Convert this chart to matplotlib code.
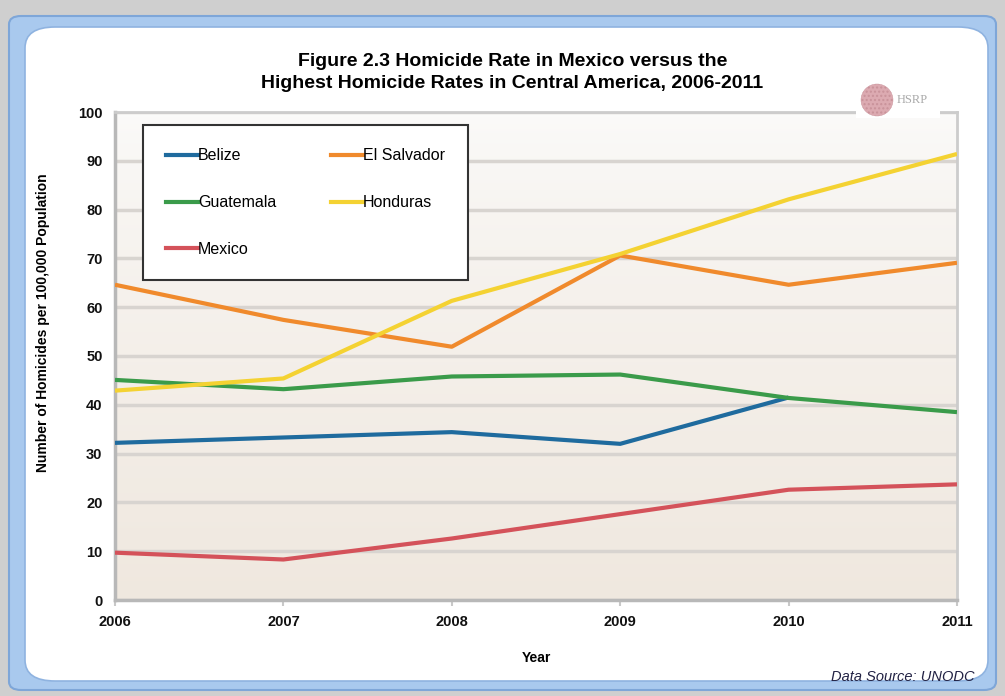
import numpy as np
import matplotlib.pyplot as plt
from matplotlib.patches import FancyBboxPatch, Circle, Rectangle
from matplotlib.lines import Line2D

years = [2006, 2007, 2008, 2009, 2010, 2011]
belize = [32.2, 33.3, 34.4, 32.0, 41.5, np.nan]
el_salvador = [64.6, 57.4, 51.9, 70.6, 64.6, 69.1]
guatemala = [45.1, 43.2, 45.8, 46.2, 41.4, 38.5]
honduras = [42.9, 45.4, 61.3, 70.9, 82.1, 91.4]
mexico = [9.7, 8.3, 12.6, 17.6, 22.6, 23.7]

series = [
    ('Belize', belize, '#1f6b9e'),
    ('El Salvador', el_salvador, '#f08a2c'),
    ('Guatemala', guatemala, '#3a9b4a'),
    ('Honduras', honduras, '#f4d232'),
    ('Mexico', mexico, '#d4525a'),
]

plt.rcParams['font.family'] = ['Liberation Sans', 'DejaVu Sans']

fig = plt.figure(figsize=(10.05, 6.96), dpi=100)
fig.patch.set_facecolor('#cfcfcf')

W, H = 1005.0, 696.0
def fx(px):
    return px / W
def fy(py):
    return 1 - py / H

# window frame
outer = FancyBboxPatch((fx(9), fy(690)), fx(996) - fx(9), fy(16) - fy(690),
                       boxstyle='round,pad=0,rounding_size=0.012',
                       transform=fig.transFigure, facecolor='#a9c9ee',
                       edgecolor='#7ea6d8', lw=1.5, zorder=0)
inner = FancyBboxPatch((fx(25), fy(681)), fx(988) - fx(25), fy(27) - fy(681),
                       boxstyle='round,pad=0,rounding_size=0.03',
                       transform=fig.transFigure, facecolor='white',
                       edgecolor='#8fb3e0', lw=1.2, zorder=0)
fig.patches.extend([outer, inner])

ax = fig.add_axes([fx(115), fy(600), fx(957) - fx(115), fy(112) - fy(600)])
ax.set_zorder(2)

# plot area shading: near white at the top, warm beige at the bottom
grad = np.linspace(0, 1, 256).reshape(-1, 1)
top = np.array([0.985, 0.983, 0.98])
bot = np.array([0.94, 0.91, 0.875])
img = top + (bot - top) * grad[:, :, None] ** 0.7
ax.imshow(img, extent=[2006, 2011, 0, 100], origin='upper', aspect='auto', zorder=0)

for name, vals, col in series:
    ax.plot(years, vals, color=col, lw=3, solid_capstyle='butt', zorder=3)

ax.set_xlim(2006, 2011)
ax.set_ylim(0, 100)
ax.set_yticks(range(0, 101, 10))
ax.set_xticks(years)
ax.grid(axis='y', color='#d8d4d0', lw=2.5, zorder=1)
ax.set_axisbelow(True)
for s in ['left', 'bottom']:
    ax.spines[s].set_color('#b8b8b8')
    ax.spines[s].set_linewidth(2.5)
for s in ['top', 'right']:
    ax.spines[s].set_color('#cccccc')
    ax.spines[s].set_linewidth(2)
ax.tick_params(axis='y', length=0, pad=9)
ax.tick_params(axis='x', length=4, width=1.5, color='#c8c8c8', pad=7)
for lab in ax.get_xticklabels() + ax.get_yticklabels():
    lab.set_fontweight('bold')
    lab.set_fontsize(10.5)
    lab.set_color('#111111')

ax.set_xlabel('Year', fontsize=10, fontweight='bold', labelpad=16)
fig.text(fx(43), fy(323), 'Number of Homicides per 100,000 Population',
         rotation=90, ha='center', va='center', fontsize=10, fontweight='bold')

# legend filled row by row
order = [0, 2, 4, 1, 3]
handles = [Line2D([], [], color=series[i][2], lw=3) for i in order]
labels = [series[i][0] for i in order]
leg = ax.legend(handles, labels, ncol=2, loc='upper left',
                bbox_to_anchor=((143 - 115) / 842.0, (600 - 125) / 488.0),
                frameon=True, fancybox=False, fontsize=11.5,
                handlelength=2.0, handletextpad=0.0, labelspacing=2.0,
                columnspacing=3.4, borderpad=1.45, borderaxespad=0)
leg.get_frame().set_edgecolor('#333333')
leg.get_frame().set_linewidth(1.5)
leg.get_frame().set_alpha(1)
leg.set_zorder(5)

fig.text(0.51, fy(61), 'Figure 2.3 Homicide Rate in Mexico versus the',
         ha='center', va='center', fontsize=14, fontweight='bold')
fig.text(0.51, fy(83), 'Highest Homicide Rates in Central America, 2006-2011',
         ha='center', va='center', fontsize=14, fontweight='bold')

# HSRP mark sitting over the top border
fig.patches.append(Rectangle((fx(856), fy(118)), fx(940) - fx(856), fy(86) - fy(118),
                             transform=fig.transFigure, facecolor='white',
                             edgecolor='none', zorder=5))
logo = Circle((877 / 100.0, (H - 100) / 100.0), 0.16, transform=fig.dpi_scale_trans,
              facecolor='#dcaab1', edgecolor='#c9929a', lw=0.3, zorder=6,
              hatch='....')
fig.patches.append(logo)
fig.text(fx(897), fy(100), 'HSRP', fontsize=9, color='#aaaaaa',
         family='Liberation Serif', ha='left', va='center', zorder=6)

fig.text(fx(975), fy(677), 'Data Source: UNODC', ha='right', va='center',
         fontsize=10.5, style='italic', color='#222244')

fig.savefig('out.png', dpi=100, facecolor=fig.get_facecolor())
